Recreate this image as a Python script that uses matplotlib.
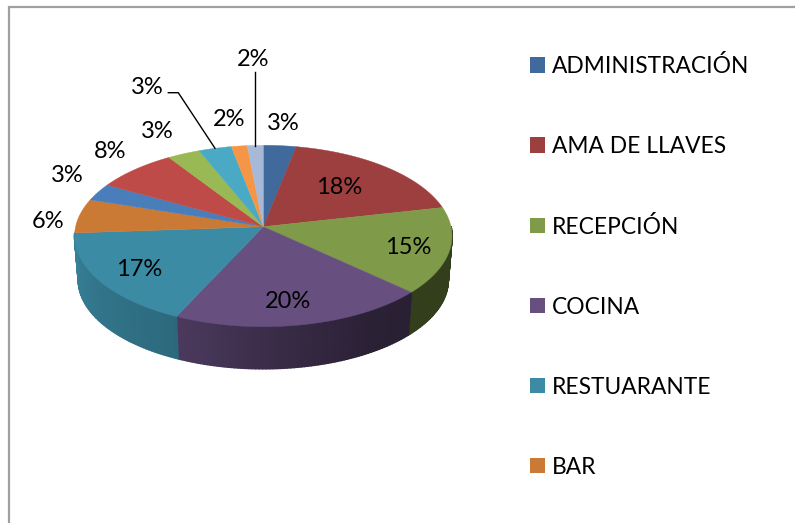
import numpy as np
import matplotlib
matplotlib.use("Agg")
import matplotlib.pyplot as plt
from matplotlib.collections import PolyCollection
from matplotlib.patches import Patch, Polygon

categories = ["ADMINISTRACIÓN", "AMA DE LLAVES", "RECEPCIÓN", "COCINA", "RESTUARANTE", "BAR"]
values = [3.1, 18.4, 15.4, 20.0, 17.0, 6.1, 3.1, 7.7, 3.1, 3.1, 1.5, 1.5]
colors = ["#40699c", "#9c3f3e", "#7f9a48", "#674f80", "#3b8ba5", "#cb7a35",
          "#4a7ebb", "#be4b48", "#98b954", "#4aaac5", "#f59647", "#a8b9d8"]

# label centres, pixels
label_xy = [(283, 124), (339, 188), (408, 248), (288, 302), (139, 270), (48, 222),
            (67, 176), (110, 152), (157, 132), (147, 88), (229, 120), (253, 60)]

# pie geometry, pixels (perspective view of a disc)
CX, CY = 263.3, 226.7
A, C, K = 187.7, 89.75, 0.1025
DEPTH, SHRINK = 44, 0.98
SIDE_FROM, SIDE_TO = 90, 265.9

# side brightness against clockwise angle from the top
shade_angle = [80, 133, 150, 170, 205, 206, 266, 300]
shade_value = [0.40, 0.40, 0.42, 0.52, 0.73, 0.76, 0.92, 0.92]


def rim(angle_deg):
    t = np.radians(angle_deg)
    x, y = np.sin(t), np.cos(t)
    d = 1 + K * y
    return A * x / d, -C * y / d


fig = plt.figure(figsize=(7.95, 5.23), dpi=100)
ax = fig.add_axes([0, 0, 1, 1])
ax.set_xlim(0, 795)
ax.set_ylim(523, 0)
ax.axis("off")

ax.plot([9, 9, 795], [523, 6.5, 6.5], color="#a0a0a0", lw=1.6, solid_joinstyle="miter")

edges = np.cumsum([0] + values) * 3.6

# side wall, only the part facing the viewer
quads, quad_colors = [], []
for i, col in enumerate(colors):
    start, stop = max(edges[i], SIDE_FROM), min(edges[i + 1], SIDE_TO)
    if stop <= start:
        continue
    ang = np.linspace(start, stop, int(stop - start) + 2)
    rgb = np.array(matplotlib.colors.to_rgb(col))
    for a0, a1 in zip(ang[:-1], ang[1:]):
        x0, y0 = rim(a0)
        x1, y1 = rim(a1)
        quads.append([(CX + x0, CY + y0), (CX + x1, CY + y1),
                      (CX + SHRINK * x1, CY + SHRINK * y1 + DEPTH),
                      (CX + SHRINK * x0, CY + SHRINK * y0 + DEPTH)])
        quad_colors.append(rgb * np.interp((a0 + a1) / 2, shade_angle, shade_value))
ax.add_collection(PolyCollection(quads, facecolors=quad_colors, edgecolors=quad_colors, linewidths=1.2))

# top face
for i, col in enumerate(colors):
    ang = np.linspace(edges[i], edges[i + 1], 40)
    xs, ys = rim(ang)
    pts = np.column_stack([np.r_[CX, CX + xs], np.r_[CY, CY + ys]])
    ax.add_patch(Polygon(pts, closed=True, facecolor=col, edgecolor=col, lw=0.3))

font = "Lato"
for v, (x, y) in zip(values, label_xy):
    ax.text(x, y, f"{v:.0f}%", ha="center", va="center", fontsize=17, family=font, color="black")

# leader lines
ax.plot([168.3, 178.3, 215], [92.7, 92.7, 148.3], color="black", lw=1)
ax.plot([255, 255], [72.3, 146], color="black", lw=1)

handles = [Patch(facecolor=c, edgecolor="none") for c in colors[:6]]
ax.legend(handles, categories, loc="upper left", bbox_to_anchor=(530 / 795, 1 - 55 / 523),
          bbox_transform=fig.transFigure, frameon=False, prop={"family": font, "size": 16.4},
          handlelength=0.66, handleheight=0.66, handletextpad=0.3, labelspacing=2.586,
          borderaxespad=0, borderpad=0)

fig.savefig("out.png", dpi=100)
